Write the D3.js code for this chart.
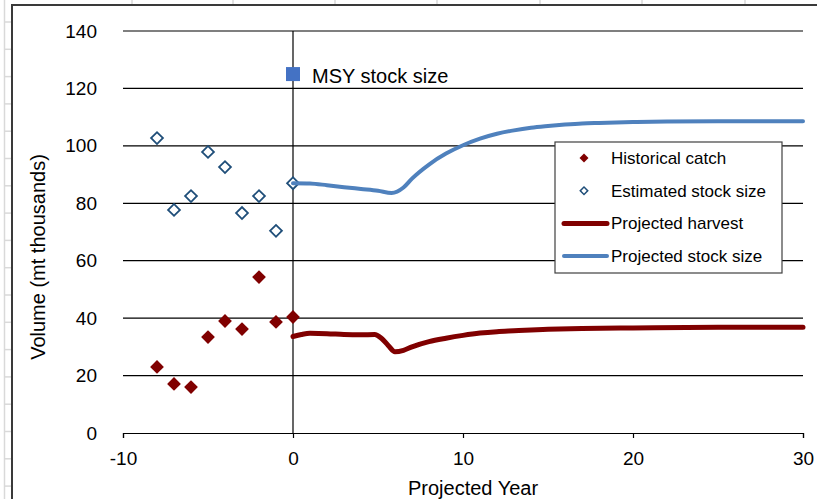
<!DOCTYPE html>
<html>
<head>
<meta charset="utf-8">
<script src="https://cdn.jsdelivr.net/npm/d3@7"></script>
<style>
  body { margin: 0; background: #fff; }
  svg { display: block; font-family: "Liberation Sans", Arial, sans-serif; }
</style>
</head>
<body>
<div id="container"></div>
<script>
// historical data (years before projection)
const histYears = [-8, -7, -6, -5, -4, -3, -2, -1, 0];
const histCatch = [23, 17.1, 16, 33.4, 39, 36.2, 54.3, 38.7, 40.4];
const estStock = [102.7, 77.7, 82.5, 97.9, 92.6, 76.6, 82.5, 70.4, 87];

// projections
const projYears = [0, 1, 2, 3, 4, 5, 5.8, 6.5, 7, 8, 9, 10, 11, 12, 13, 14, 15, 16, 17, 18, 20, 22, 25, 30];
const projStock = [87, 86.9, 86.3, 85.6, 85, 84.4, 83.6, 85.5, 88.6, 93.5, 97.3, 100.2, 102.5, 104.2, 105.4, 106.3, 106.9, 107.4, 107.8, 108, 108.3, 108.5, 108.6, 108.6];
const harvYears = [0, 0.5, 1, 2, 3, 4, 4.8, 5.2, 5.6, 6, 6.5, 7, 8, 9, 10, 11, 12, 13, 14, 15, 17, 20, 25, 30];
const projHarvest = [33.6, 34.3, 34.7, 34.6, 34.3, 34.2, 34.3, 33, 30.5, 28.3, 28.8, 30, 31.8, 33, 34, 34.8, 35.3, 35.6, 35.9, 36.1, 36.4, 36.6, 36.8, 36.8];

const msyYear = 0;
const msyStock = 125;

const xTicks = [-10, 0, 10, 20, 30];
const yTicks = [0, 20, 40, 60, 80, 100, 120, 140];

const W = 817, H = 499;
const svg = d3.select("#container").append("svg")
    .attr("width", W)
    .attr("height", H);

// spreadsheet background behind the chart object
const bg = svg.append("g").attr("stroke", "#d9d9d9").attr("stroke-width", 1.5);
[132, 233, 335, 437, 540, 642, 745].forEach(cx => {
    bg.append("line").attr("x1", cx).attr("x2", cx).attr("y1", 0).attr("y2", 5);
});
bg.append("line").attr("x1", 4.5).attr("x2", 4.5).attr("y1", 0).attr("y2", H);
for (let k = 0; k < 18; k++) {
    const ry = 22 + k * 27.3;
    bg.append("line").attr("x1", 4).attr("x2", 12).attr("y1", ry).attr("y2", ry);
}

// chart frame
svg.append("path")
    .attr("d", `M12,${H} L12,5 L${W},5`)
    .attr("fill", "none")
    .attr("stroke", "#3a3a3a")
    .attr("stroke-width", 2);

const x = d3.scaleLinear().domain([-10, 30]).range([123, 803]);
const y = d3.scaleLinear().domain([0, 140]).range([433, 31]);

// gridlines
svg.append("g")
    .selectAll("line")
    .data(yTicks.filter(d => d > 0))
  .enter().append("line")
    .attr("x1", x(-10))
    .attr("x2", x(30))
    .attr("y1", d => y(d))
    .attr("y2", d => y(d))
    .attr("stroke", "#000")
    .attr("stroke-width", 1.2);

// vertical axis at year 0
svg.append("line")
    .attr("x1", x(0)).attr("x2", x(0))
    .attr("y1", y(140)).attr("y2", y(0))
    .attr("stroke", "#000")
    .attr("stroke-width", 1.2);

// y tick labels sit at the left edge
const yAxis = svg.append("g")
    .attr("transform", `translate(${x(-10)},0)`)
    .call(d3.axisLeft(y).tickValues(yTicks).tickSize(0).tickPadding(26).tickFormat(d => String(d)));
yAxis.select(".domain").remove();
yAxis.selectAll("text").attr("font-size", 19).attr("font-family", "Liberation Sans, Arial").attr("fill", "#000");

const xAxis = svg.append("g")
    .attr("transform", `translate(0,${y(0)})`)
    .call(d3.axisBottom(x).tickValues(xTicks).tickSize(5).tickSizeOuter(5).tickPadding(14).tickFormat(d => String(d)));
xAxis.select(".domain").attr("stroke-width", 1.2);
xAxis.selectAll("line").attr("stroke-width", 1.2);
xAxis.selectAll("text").attr("font-size", 19).attr("font-family", "Liberation Sans, Arial").attr("fill", "#000");

// axis titles
svg.append("text")
    .attr("transform", `translate(45,257) rotate(-90)`)
    .attr("text-anchor", "middle")
    .attr("font-size", 20)
    .text("Volume (mt thousands)");

svg.append("text")
    .attr("x", 473)
    .attr("y", 495)
    .attr("text-anchor", "middle")
    .attr("font-size", 20)
    .text("Projected Year");

const diamond = size => d3.symbol().type(d3.symbolSquare).size(size)();

// estimated stock size: open diamonds
svg.append("g")
    .selectAll("path")
    .data(histYears.map((yr, i) => [yr, estStock[i]]))
  .enter().append("path")
    .attr("d", diamond(70))
    .attr("transform", d => `translate(${x(d[0])},${y(d[1])}) rotate(45)`)
    .attr("fill", "#fff")
    .attr("stroke", "#1f4e79")
    .attr("stroke-width", 1.8);

// historical catch: filled diamonds
svg.append("g")
    .selectAll("path")
    .data(histYears.map((yr, i) => [yr, histCatch[i]]))
  .enter().append("path")
    .attr("d", diamond(95))
    .attr("transform", d => `translate(${x(d[0])},${y(d[1])}) rotate(45)`)
    .attr("fill", "#800000");

const line = d3.line()
    .x(d => x(d[0]))
    .y(d => y(d[1]))
    .curve(d3.curveMonotoneX);

svg.append("path")
    .datum(harvYears.map((yr, i) => [yr, projHarvest[i]]))
    .attr("d", line)
    .attr("fill", "none")
    .attr("stroke", "#800000")
    .attr("stroke-width", 5)
    .attr("stroke-linecap", "round");

svg.append("path")
    .datum(projYears.map((yr, i) => [yr, projStock[i]]))
    .attr("d", line)
    .attr("fill", "none")
    .attr("stroke", "#4f81bd")
    .attr("stroke-width", 4)
    .attr("stroke-linecap", "round");

// MSY marker
svg.append("rect")
    .attr("x", x(msyYear) - 7)
    .attr("y", y(msyStock) - 7)
    .attr("width", 14)
    .attr("height", 14)
    .attr("fill", "#4472c4");

svg.append("text")
    .attr("x", x(msyYear) + 19)
    .attr("y", y(msyStock) + 9)
    .attr("font-size", 20)
    .text("MSY stock size");

// legend
const legend = svg.append("g").attr("transform", "translate(555,142)");
legend.append("rect")
    .attr("width", 227)
    .attr("height", 131)
    .attr("fill", "#fff")
    .attr("stroke", "#404040")
    .attr("stroke-width", 1.2);

const items = [
    { label: "Historical catch", kind: "filled" },
    { label: "Estimated stock size", kind: "open" },
    { label: "Projected harvest", kind: "line", color: "#800000", w: 5 },
    { label: "Projected stock size", kind: "line", color: "#4f81bd", w: 4 }
];

items.forEach((it, i) => {
    const cy = 16 + i * 32.7;
    if (it.kind === "filled") {
        legend.append("path").attr("d", diamond(40))
            .attr("transform", `translate(29,${cy}) rotate(45)`)
            .attr("fill", "#800000");
    } else if (it.kind === "open") {
        legend.append("path").attr("d", diamond(28))
            .attr("transform", `translate(29,${cy}) rotate(45)`)
            .attr("fill", "#fff")
            .attr("stroke", "#1f4e79")
            .attr("stroke-width", 1.5);
    } else {
        legend.append("line")
            .attr("x1", 9).attr("x2", 52)
            .attr("y1", cy).attr("y2", cy)
            .attr("stroke", it.color)
            .attr("stroke-width", it.w)
            .attr("stroke-linecap", "round");
    }
    legend.append("text")
        .attr("x", 56)
        .attr("y", cy + 6)
        .attr("font-size", 17)
        .text(it.label);
});
</script>
</body>
</html>
